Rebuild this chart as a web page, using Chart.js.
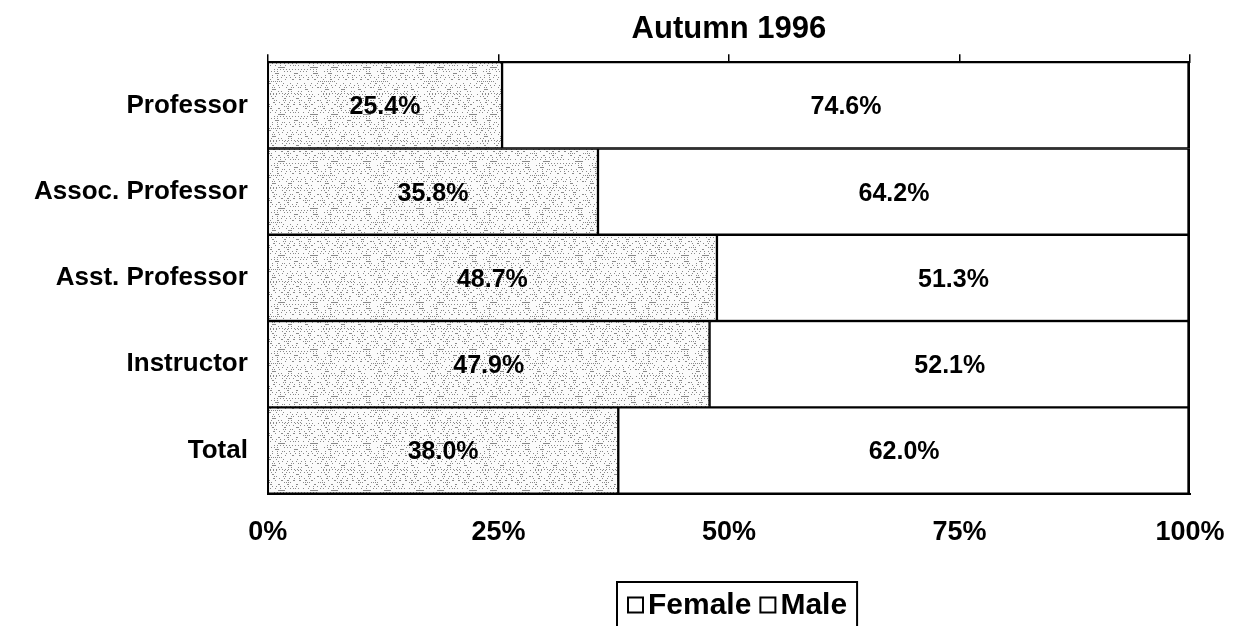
<!DOCTYPE html>
<html>
<head>
<meta charset="utf-8">
<title>Autumn 1996</title>
<script src="https://cdn.jsdelivr.net/npm/chart.js@4/dist/chart.umd.min.js"></script>
<style>
  body { margin: 0; background: #fff; }
  #wrap { width: 1235px; height: 626px; position: relative; }
</style>
</head>
<body>
<div id="wrap"><canvas id="chart"></canvas></div>
<script>
// data
const categories = ['Professor', 'Assoc. Professor', 'Asst. Professor', 'Instructor', 'Total'];
const femalePct = [25.4, 35.8, 48.7, 47.9, 38.0];
const malePct = [74.6, 64.2, 51.3, 52.1, 62.0];
const xTickLabels = ['0%', '25%', '50%', '75%', '100%'];

const FONT = '"Liberation Sans", Arial, sans-serif';

// light stippled grey, like the scanned female bars
function makeStipple() {
    const c = document.createElement('canvas');
    c.width = 53; c.height = 47;
    const g = c.getContext('2d');
    g.fillStyle = '#fbfbfb';
    g.fillRect(0, 0, c.width, c.height);
    g.fillStyle = '#8a8a8a';
    for (let y = 0; y < c.height; y += 2) {
        for (let x = 0; x < c.width; x++) {
            const h = (x * 7919 + y * 104729 + x * y * 31) % 97;
            if (h < 22) g.fillRect(x, y, 1, 1);
        }
    }
    return g.createPattern(c, 'repeat');
}

// the tick label overhang padding would shrink the plot, drop it
function noEdgePadding(scale) {
    scale.paddingLeft = 0;
    scale.paddingRight = 0;
    scale.paddingTop = 0;
    scale.paddingBottom = 0;
}

// percentage text centred in every bar segment
const segmentLabels = {
    id: 'segmentLabels',
    afterDatasetsDraw(chart) {
        const ctx = chart.ctx;
        ctx.save();
        ctx.font = 'bold 25px ' + FONT;
        ctx.fillStyle = '#000';
        ctx.textAlign = 'center';
        ctx.textBaseline = 'middle';
        chart.data.datasets.forEach((ds, i) => {
            chart.getDatasetMeta(i).data.forEach((bar, j) => {
                const cx = (bar.x + bar.base) / 2;
                ctx.fillText(ds.data[j].toFixed(1) + '%', cx, bar.y + 2);
            });
        });
        ctx.restore();
    }
};

// boxed legend under the axis, both keys drawn as empty squares
const boxedLegend = {
    id: 'boxedLegend',
    afterDraw(chart) {
        const ctx = chart.ctx;
        const area = chart.chartArea;
        const names = chart.data.datasets.map(ds => ds.label);
        ctx.save();
        ctx.font = 'bold 30px ' + FONT;
        const sq = 15, padL = 11, padR = 10, gapText = 5, gapItem = 9;
        const widths = names.map(n => ctx.measureText(n).width);
        let total = padL + padR;
        widths.forEach((w, i) => { total += sq + gapText + w + (i ? gapItem : 0); });
        const cx = (area.left + area.right) / 2 + 8;
        const left = Math.round(cx - total / 2);
        const top = 582;
        ctx.lineWidth = 2;
        ctx.strokeStyle = '#000';
        ctx.strokeRect(left, top, total, 60);
        const midY = 605;
        let x = left + padL;
        ctx.textBaseline = 'middle';
        ctx.fillStyle = '#000';
        names.forEach((n, i) => {
            if (i) x += gapItem;
            ctx.lineWidth = 2;
            ctx.strokeRect(x, midY - sq / 2, sq, sq);
            x += sq + gapText;
            ctx.fillText(n, x, midY + 1);
            x += widths[i];
        });
        ctx.restore();
    }
};

const ctx = document.getElementById('chart').getContext('2d');
const facultyChart = new Chart(ctx, {
    type: 'bar',
    data: {
        labels: categories,
        datasets: [
            {
                label: 'Female',
                data: femalePct,
                xAxisID: 'x',
                backgroundColor: makeStipple(),
                borderColor: '#000',
                borderWidth: 1.5,
                borderSkipped: false
            },
            {
                label: 'Male',
                data: malePct,
                xAxisID: 'x',
                backgroundColor: '#fff',
                borderColor: '#000',
                borderWidth: { top: 1.5, bottom: 1.5, left: 1.5, right: 3 },
                borderSkipped: false
            }
        ]
    },
    options: {
        indexAxis: 'y',
        responsive: true,
        maintainAspectRatio: false,
        animation: false,
        barPercentage: 1,
        categoryPercentage: 1,
        layout: {
            padding: { top: 11, left: 14, right: 45, bottom: 54 }
        },
        scales: {
            x: {
                stacked: true,
                min: 0,
                max: 100,
                afterFit: noEdgePadding,
                grid: { display: false, drawTicks: false },
                border: { display: true, color: '#000', width: 2 },
                ticks: {
                    stepSize: 25,
                    padding: 23,
                    color: '#000',
                    font: { family: FONT, size: 27, weight: 'bold' },
                    callback: (v, i) => xTickLabels[i]
                }
            },
            x2: {
                position: 'top',
                min: 0,
                max: 100,
                afterFit: noEdgePadding,
                grid: {
                    drawOnChartArea: false,
                    tickLength: 8,
                    color: '#000',
                    lineWidth: 1.5
                },
                border: { display: true, color: '#000', width: 2 },
                ticks: { stepSize: 25, display: false }
            },
            y: {
                stacked: true,
                afterFit: noEdgePadding,
                grid: { display: false, drawTicks: false },
                border: { display: true, color: '#000', width: 2 },
                ticks: {
                    padding: 20,
                    color: '#000',
                    font: { family: FONT, size: 26, weight: 'bold' }
                }
            }
        },
        plugins: {
            legend: { display: false },
            tooltip: { enabled: false },
            title: {
                display: true,
                text: 'Autumn 1996',
                fullSize: false,
                color: '#000',
                font: { family: FONT, size: 31, weight: 'bold' },
                padding: { top: 0, bottom: 6 }
            }
        }
    },
    plugins: [segmentLabels, boxedLegend]
});
</script>
</body>
</html>
